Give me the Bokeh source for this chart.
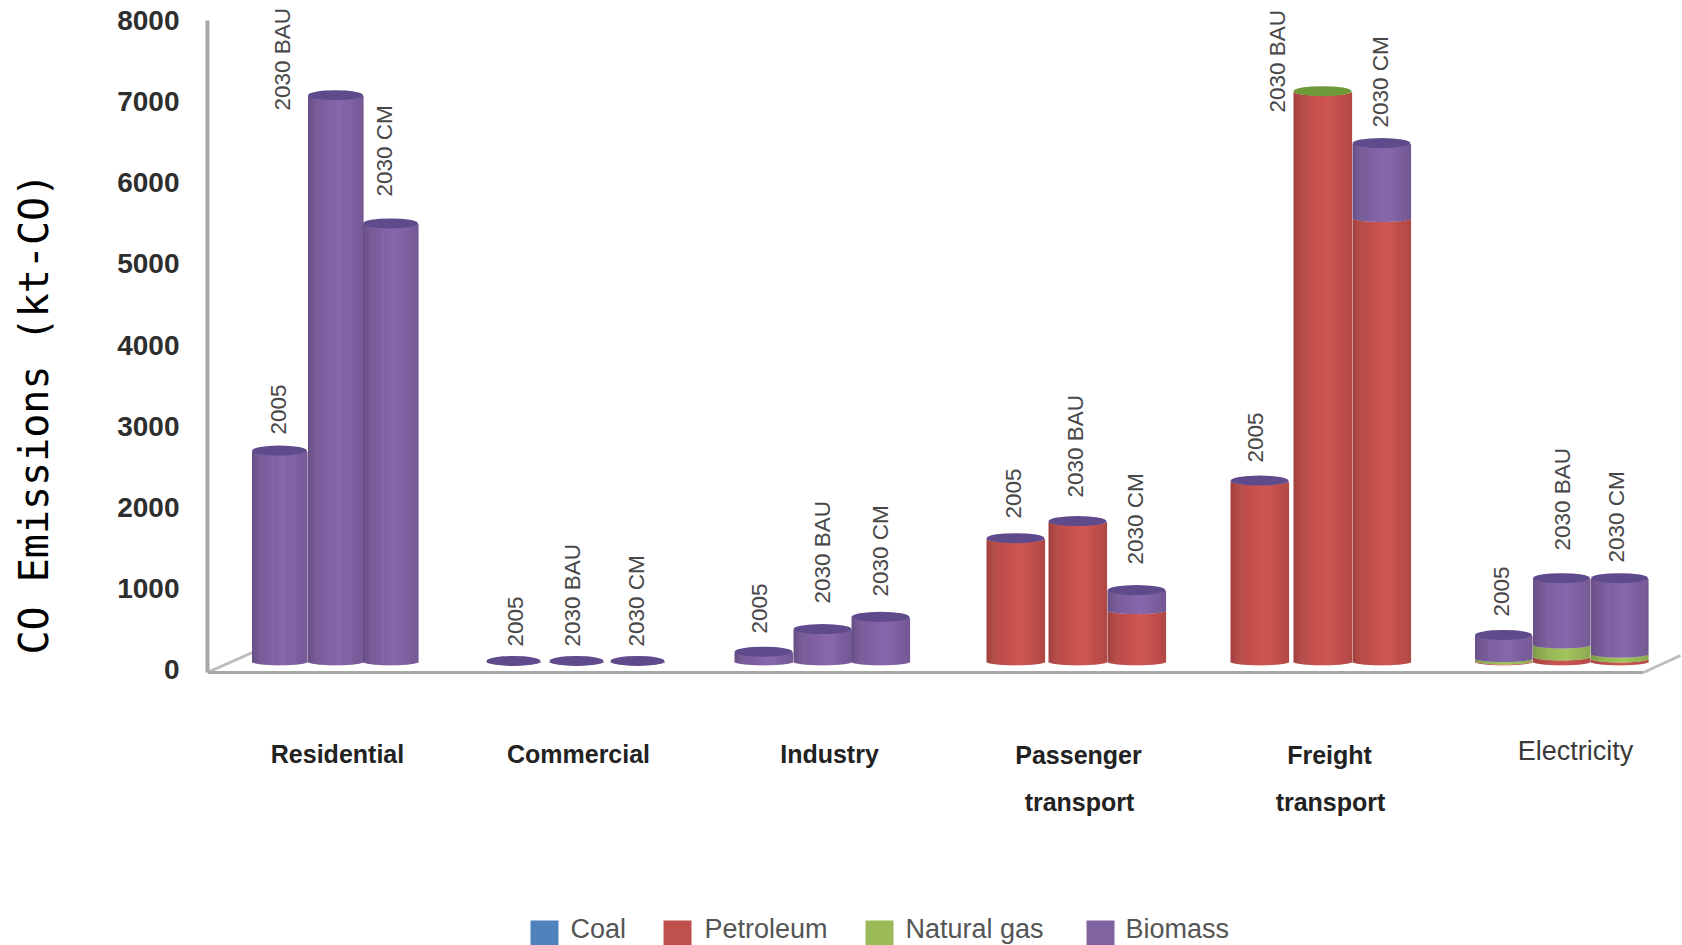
import math
from bokeh.embed import file_html
from bokeh.resources import INLINE
from bokeh.plotting import figure
from bokeh.models import Range1d, FixedTicker, Title, ColumnDataSource
from bokeh.core.properties import value

sectors = ["Residential", "Commercial", "Industry", "Passenger\ntransport", "Freight\ntransport", "Electricity"]
scenarios = ["2005", "2030 BAU", "2030 CM"]
fuels = ["Coal", "Petroleum", "Natural gas", "Biomass"]

# Emissions in kt-CO, one row per sector, one entry per scenario
coal = [[0, 0, 0]] * 6
petroleum = [[0, 0, 0], [0, 0, 0], [0, 0, 0], [1514, 1724, 631], [2224, 7024, 5465], [10, 60, 35]]
natural_gas = [[0, 0, 0], [0, 0, 0], [0, 0, 0], [0, 0, 0], [0, 10, 0], [30, 148, 60]]
biomass = [[2604, 6984, 5404], [10, 10, 10], [124, 404, 554], [10, 10, 253], [10, 0, 929], [291, 823, 936]]
y_ticks = [0, 1000, 2000, 3000, 4000, 5000, 6000, 7000, 8000]

# Layout of the pseudo-3D columns, in page pixels
bar_centers = [[279, 335, 390], [513, 576, 637], [763, 822, 880],
               [1015, 1077, 1136], [1259, 1322, 1381], [1503, 1561, 1619]]
bar_widths = [55, 54, 58, 58, 58, 57]
scenario_label_pos = [[(278, 434), (282, 110), (384, 196)], [(515, 646), (572, 646), (636, 646)],
                      [(759, 633), (822, 603), (880, 596)], [(1013, 518), (1075, 497), (1135, 564)],
                      [(1255, 462), (1277, 112), (1380, 127)], [(1501, 616), (1562, 550), (1616, 562)]]
sector_label_pos = [(337, 753), (578, 753), (829, 753), (1078, 754), (1329, 754), (1575, 750)]
legend_swatch_x = [530, 663, 865, 1086]
legend_label_x = [570, 704, 905, 1125]

body_colors = {"Coal": (79, 129, 189), "Petroleum": (207, 85, 81), "Natural gas": (162, 196, 92), "Biomass": (135, 103, 172)}
top_colors = {"Coal": "#3d6a9e", "Petroleum": "#a8403d", "Natural gas": "#6f9a3a", "Biomass": "#5f4a8c"}
legend_colors = {"Coal": "#4f81bd", "Petroleum": "#c0504d", "Natural gas": "#9bbb59", "Biomass": "#8064a2"}

PX_PER_UNIT = 649 / 8000
ZERO_PX = 669
FLOOR = 95               # column bases sit slightly above the zero tick
RIM = 5 / PX_PER_UNIT    # half height of the elliptical top
SAG = 3.5 / PX_PER_UNIT  # sag of the band edges and of the column foot
STRIPS = 30


def to_value(py):
    return (ZERO_PX - py) / PX_PER_UNIT


def shade(color, u):
    k = 0.74 + 0.26 * (1 - abs(u - 0.1) / 1.1) ** 0.5
    return "#%02x%02x%02x" % tuple(min(255, int(c * k)) for c in color)


p = figure(width=1682, height=945, output_backend="svg", toolbar_location=None,
           x_range=Range1d(207, 1682), y_range=Range1d(to_value(945), to_value(0)),
           min_border_left=207, min_border_right=0, min_border_top=0, min_border_bottom=0,
           x_axis_location=None, outline_line_color=None)
p.grid.visible = False

axis = p.yaxis[0]
axis.ticker = FixedTicker(ticks=y_ticks)
axis.bounds = (to_value(672), 8000)
axis.axis_line_color = "#a8a8a8"
axis.axis_line_width = 4
axis.major_tick_line_color = None
axis.minor_tick_line_color = None
axis.major_label_standoff = 22
axis.major_label_text_font = "Liberation Sans"
axis.major_label_text_font_style = "bold"
axis.major_label_text_font_size = "28px"
axis.major_label_text_color = "#2e2e2e"
# A blank axis label widens the axis panel and pushes the title out to the page edge
axis.axis_label = " "
axis.axis_label_text_font_size = "10px"
axis.axis_label_standoff = 44

# Vertical title in the left margin, offset along the frame from its lower end
p.add_layout(Title(text="CO Emissions (kt-CO)", align="left", offset=291, standoff=0,
                   text_font="DejaVu Sans Mono", text_font_size="40px",
                   text_font_style="normal", text_color="#000000"), "left")

# Floor of the chart box
p.line([207, 252], [to_value(672), to_value(652)], line_color="#bdbdbd", line_width=3)
p.line([207, 1643], [to_value(672), to_value(672)], line_color="#a8a8a8", line_width=3)
p.line([1643, 1680], [to_value(672), to_value(655)], line_color="#bdbdbd", line_width=3)

series = {"Coal": coal, "Petroleum": petroleum, "Natural gas": natural_gas, "Biomass": biomass}

for g in range(len(sectors)):
    half = bar_widths[g] / 2
    for s in range(len(scenarios)):
        cx = bar_centers[g][s]
        left, right, top, bottom, color = [], [], [], [], []
        cum = FLOOR
        top_fuel = None
        for fuel in fuels:
            v = series[fuel][g][s]
            if v <= 0:
                continue
            for i in range(STRIPS):
                u0 = -1 + 2 * i / STRIPS
                u1 = -1 + 2 * (i + 1) / STRIPS
                um = (u0 + u1) / 2
                curve = SAG * math.sqrt(max(0, 1 - um * um))
                left.append(cx + half * u0)
                right.append(cx + half * u1 + 0.6)
                bottom.append(cum - curve)
                top.append(cum + v - curve)
                color.append(shade(body_colors[fuel], um))
            cum += v
            top_fuel = fuel
        src = ColumnDataSource(dict(left=left, right=right, top=top, bottom=bottom, color=color))
        p.quad(left="left", right="right", top="top", bottom="bottom", fill_color="color",
               line_color=None, source=src)
        p.ellipse(x=[cx], y=[cum], width=bar_widths[g], height=2 * RIM,
                  fill_color=top_colors[top_fuel], line_color=None)
        lx, ly = scenario_label_pos[g][s]
        p.text(x=[lx], y=[to_value(ly)], text=[scenarios[s]], angle=math.pi / 2,
               text_align="left", text_baseline="middle", text_color="#484848",
               text_font=value("Liberation Sans"), text_font_size="22.5px")

# Sector names under the columns
for g, name in enumerate(sectors):
    lx, ly = sector_label_pos[g]
    plain = name == "Electricity"
    for k, line in enumerate(name.split("\n")):
        p.text(x=[lx + k], y=[to_value(ly + 47 * k)], text=[line], text_align="center",
               text_baseline="middle", text_color="#3a3a3a" if plain else "#222222",
               text_font=value("Liberation Sans"), text_font_style="normal" if plain else "bold",
               text_font_size="27px" if plain else "25px")

# Fuel key along the bottom edge
for k, fuel in enumerate(fuels):
    p.quad(left=[legend_swatch_x[k]], right=[legend_swatch_x[k] + 28], top=[to_value(920)],
           bottom=[to_value(950)], fill_color=legend_colors[fuel], line_color=None)
    p.text(x=[legend_label_x[k]], y=[to_value(928)], text=[fuel], text_align="left",
           text_baseline="middle", text_color="#555555",
           text_font=value("Liberation Sans"), text_font_size="27px")

open("out.html", "w").write(file_html(p, INLINE))
